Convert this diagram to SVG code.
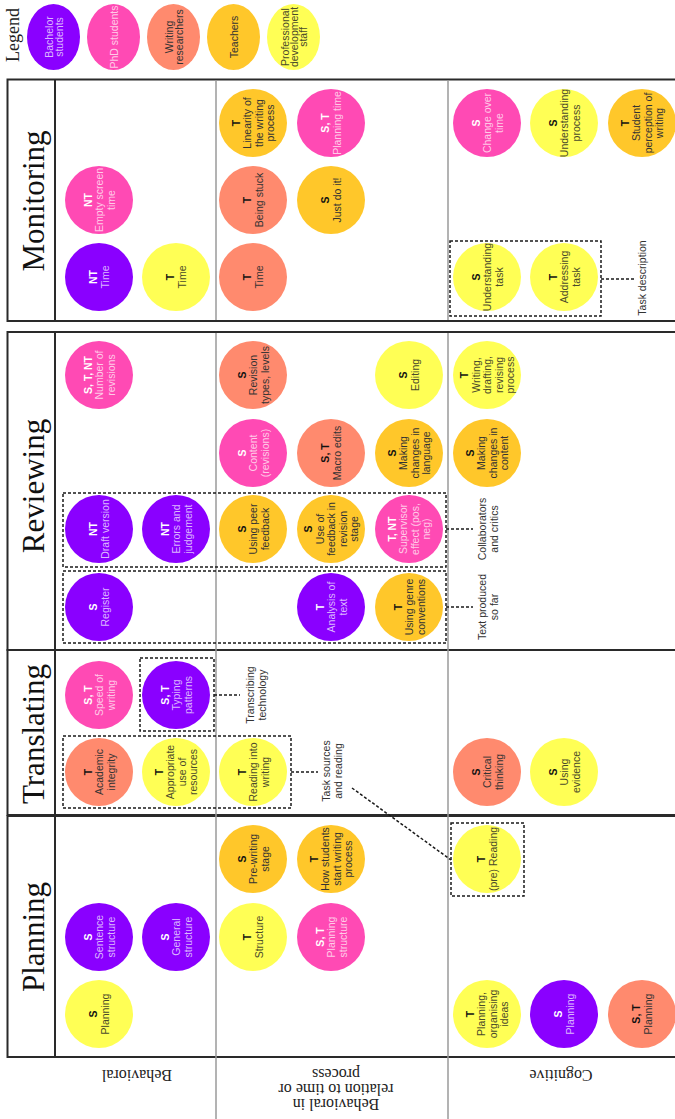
<svg xmlns="http://www.w3.org/2000/svg" width="675" height="1119" viewBox="0 0 675 1119">
  <style>
    text { font-family: "Liberation Sans", Arial, sans-serif; font-size: 10.5px; text-anchor: middle; dominant-baseline: central; }
    .code { font-weight: bold; }
    .serif { font-family: "Liberation Serif", "Times New Roman", serif; dominant-baseline: auto; }
    .head { font-size: 31px; fill: #111; }
    .legend-title { font-size: 18px; fill: #222; }
    .rowlab { font-size: 16px; fill: #222; dominant-baseline: central; }
    .ba circle, .ba ellipse { fill: #8a00ff; }
    .phd circle, .phd ellipse { fill: #ff4ab4; }
    .wr circle, .wr ellipse { fill: #ff8a6e; }
    .te circle, .te ellipse { fill: #ffc72a; }
    .pd circle, .pd ellipse { fill: #ffff55; }
    .ba .code, .phd .code { fill: #ffffff; }
    .ba .lbl { fill: #dcb6ff; }
    .phd .lbl { fill: #ffcbe8; }
    .wr .code, .te .code, .pd .code { fill: #111; }
    .wr .lbl, .te .lbl { fill: #333; }
    .pd .lbl { fill: #4a4a2a; }
    .box { fill: none; stroke: #2a2a2a; stroke-width: 2; }
    .hdiv { stroke: #2a2a2a; stroke-width: 2; }
    .rdiv { stroke: #9a9a9a; stroke-width: 1.5; }
    .dbox { fill: none; stroke: #1a1a1a; stroke-width: 1.5; stroke-dasharray: 3 2; }
    .lead { fill: none; stroke: #1a1a1a; stroke-width: 1.5; stroke-dasharray: 3 2; }
    .note { fill: #333; }
  </style>

  <rect width="675" height="1119" fill="#ffffff"/>

  <!-- Legend -->
  <g id="legend">
    <text class="serif legend-title" transform="translate(13,35) rotate(-90)" y="6">Legend</text>
    <g class="ba" transform="translate(53.5,37) rotate(-90)"><ellipse rx="33" ry="26.5"/><text class="lbl"><tspan x="0" y="-5">Bachelor</tspan><tspan x="0" y="5.5">students</tspan></text></g>
    <g class="phd" transform="translate(113.5,37) rotate(-90)"><ellipse rx="33" ry="26.5"/><text class="lbl"><tspan x="0" y="0">PhD students</tspan></text></g>
    <g class="wr" transform="translate(173.5,37) rotate(-90)"><ellipse rx="33" ry="26.5"/><text class="lbl"><tspan x="0" y="-5">Writing</tspan><tspan x="0" y="5.5">researchers</tspan></text></g>
    <g class="te" transform="translate(233.5,37) rotate(-90)"><ellipse rx="33" ry="26.5"/><text class="lbl"><tspan x="0" y="0">Teachers</tspan></text></g>
    <g class="pd" transform="translate(293.5,37) rotate(-90)"><ellipse rx="33" ry="26.5"/><text class="lbl"><tspan x="0" y="-9">Professional</tspan><tspan x="0" y="0">development</tspan><tspan x="0" y="9">staff</tspan></text></g>
  </g>

  <!-- Table frame -->
  <g id="frame">
    <rect class="box" x="7.5" y="79.5" width="680" height="241.5"/>
    <rect class="box" x="7.5" y="332" width="680" height="318"/>
    <rect class="box" x="7.5" y="650" width="680" height="165"/>
    <rect class="box" x="7.5" y="816" width="680" height="241"/>
    <line class="hdiv" x1="55" y1="79.5" x2="55" y2="321"/>
    <line class="hdiv" x1="55" y1="332" x2="55" y2="1057"/>
    <line class="rdiv" x1="216" y1="80.5" x2="216" y2="320"/>
    <line class="rdiv" x1="216" y1="333" x2="216" y2="1119"/>
    <line class="rdiv" x1="448" y1="80.5" x2="448" y2="320"/>
    <line class="rdiv" x1="448" y1="333" x2="448" y2="1119"/>
  </g>

  <!-- Phase headings -->
  <g id="headings">
    <text class="serif head" transform="translate(31,201) rotate(-90)" y="13">Monitoring</text>
    <text class="serif head" transform="translate(31,486) rotate(-90)" y="13">Reviewing</text>
    <text class="serif head" transform="translate(31,734) rotate(-90)" y="13">Translating</text>
    <text class="serif head" transform="translate(31,937) rotate(-90)" y="13">Planning</text>
  </g>

  <!-- Row labels -->
  <g id="row-labels">
    <text class="serif rowlab" transform="translate(137,1075) rotate(180)">Behavioral</text>
    <text class="serif rowlab" transform="translate(336,1090) rotate(180)"><tspan x="0" y="-15">Behavioral in</tspan><tspan x="0" y="0">relation to time or</tspan><tspan x="0" y="15">process</tspan></text>
    <text class="serif rowlab" transform="translate(561,1075) rotate(180)">Cognitive</text>
  </g>

  <!-- Grouping boxes -->
  <g id="groups">
    <rect class="dbox" x="450" y="241" width="151" height="75"/>
    <rect class="dbox" x="63" y="493" width="383" height="74"/>
    <rect class="dbox" x="63" y="571" width="383" height="72"/>
    <rect class="dbox" x="140" y="658" width="74" height="73"/>
    <rect class="dbox" x="63" y="736" width="228" height="72"/>
    <rect class="dbox" x="451" y="823" width="73" height="73"/>
  </g>

  <!-- Connectors -->
  <g id="connectors">
    <line class="lead" x1="601" y1="279" x2="634" y2="279"/>
    <line class="lead" x1="446" y1="529" x2="473" y2="529"/>
    <line class="lead" x1="446" y1="607" x2="473" y2="607"/>
    <line class="lead" x1="214" y1="695" x2="240" y2="695"/>
    <line class="lead" x1="291" y1="772" x2="318" y2="772"/>
    <line class="lead" x1="352" y1="788" x2="451" y2="860"/>
  </g>

  <!-- Connector labels -->
  <g id="group-labels">
    <text class="note" transform="translate(642,278) rotate(-90)">Task description</text>
    <text class="note" transform="translate(488,529) rotate(-90)"><tspan x="0" y="-6">Collaborators</tspan><tspan x="0" y="6">and critics</tspan></text>
    <text class="note" transform="translate(488,607) rotate(-90)"><tspan x="0" y="-6">Text produced</tspan><tspan x="0" y="6">so far</tspan></text>
    <text class="note" transform="translate(256,695) rotate(-90)"><tspan x="0" y="-6">Transcribing</tspan><tspan x="0" y="6">technology</tspan></text>
    <text class="note" transform="translate(332,771) rotate(-90)"><tspan x="0" y="-6">Task sources</tspan><tspan x="0" y="6">and reading</tspan></text>
  </g>

  <!-- Monitoring -->
  <g id="m1" class="ba" transform="translate(99,277) rotate(-90)"><circle r="34"/><text><tspan class="code" x="0" y="-5.75">NT</tspan><tspan class="lbl" x="0" y="5.75">Time</tspan></text></g>
  <g id="m2" class="phd" transform="translate(99,200) rotate(-90)"><circle r="34"/><text><tspan class="code" x="0" y="-11.5">NT</tspan><tspan class="lbl" x="0" y="0">Empty screen</tspan><tspan class="lbl" x="0" y="11.5">time</tspan></text></g>
  <g id="m3" class="pd" transform="translate(176,277) rotate(-90)"><circle r="34"/><text><tspan class="code" x="0" y="-5.75">T</tspan><tspan class="lbl" x="0" y="5.75">Time</tspan></text></g>
  <g id="m4" class="te" transform="translate(253,123) rotate(-90)"><circle r="34"/><text><tspan class="code" x="0" y="-17.25">T</tspan><tspan class="lbl" x="0" y="-5.75">Linearity of</tspan><tspan class="lbl" x="0" y="5.75">the writing</tspan><tspan class="lbl" x="0" y="17.25">process</tspan></text></g>
  <g id="m5" class="wr" transform="translate(253,200) rotate(-90)"><circle r="34"/><text><tspan class="code" x="0" y="-5.75">T</tspan><tspan class="lbl" x="0" y="5.75">Being stuck</tspan></text></g>
  <g id="m6" class="wr" transform="translate(253,277) rotate(-90)"><circle r="34"/><text><tspan class="code" x="0" y="-5.75">T</tspan><tspan class="lbl" x="0" y="5.75">Time</tspan></text></g>
  <g id="m7" class="phd" transform="translate(331,123) rotate(-90)"><circle r="34"/><text><tspan class="code" x="0" y="-5.75">S, T</tspan><tspan class="lbl" x="0" y="5.75">Planning time</tspan></text></g>
  <g id="m8" class="te" transform="translate(331,200) rotate(-90)"><circle r="34"/><text><tspan class="code" x="0" y="-5.75">S</tspan><tspan class="lbl" x="0" y="5.75">Just do it!</tspan></text></g>
  <g id="m9" class="phd" transform="translate(487,123) rotate(-90)"><circle r="34"/><text><tspan class="code" x="0" y="-11.5">S</tspan><tspan class="lbl" x="0" y="0">Change over</tspan><tspan class="lbl" x="0" y="11.5">time</tspan></text></g>
  <g id="m10" class="pd" transform="translate(564,123) rotate(-90)"><circle r="34"/><text><tspan class="code" x="0" y="-11.5">S</tspan><tspan class="lbl" x="0" y="0">Understanding</tspan><tspan class="lbl" x="0" y="11.5">process</tspan></text></g>
  <g id="m11" class="te" transform="translate(642,123) rotate(-90)"><circle r="34"/><text><tspan class="code" x="0" y="-17.25">T</tspan><tspan class="lbl" x="0" y="-5.75">Student</tspan><tspan class="lbl" x="0" y="5.75">perception of</tspan><tspan class="lbl" x="0" y="17.25">writing</tspan></text></g>
  <g id="m12" class="pd" transform="translate(487,277) rotate(-90)"><circle r="34"/><text><tspan class="code" x="0" y="-11.5">S</tspan><tspan class="lbl" x="0" y="0">Understanding</tspan><tspan class="lbl" x="0" y="11.5">task</tspan></text></g>
  <g id="m13" class="pd" transform="translate(564,277) rotate(-90)"><circle r="34"/><text><tspan class="code" x="0" y="-11.5">T</tspan><tspan class="lbl" x="0" y="0">Addressing</tspan><tspan class="lbl" x="0" y="11.5">task</tspan></text></g>

  <!-- Reviewing -->
  <g id="r1" class="phd" transform="translate(99,375) rotate(-90)"><circle r="34"/><text><tspan class="code" x="0" y="-11.5">S, T, NT</tspan><tspan class="lbl" x="0" y="0">Number of</tspan><tspan class="lbl" x="0" y="11.5">revisions</tspan></text></g>
  <g id="r2" class="ba" transform="translate(99,529) rotate(-90)"><circle r="34"/><text><tspan class="code" x="0" y="-5.75">NT</tspan><tspan class="lbl" x="0" y="5.75">Draft version</tspan></text></g>
  <g id="r3" class="ba" transform="translate(99,607) rotate(-90)"><circle r="34"/><text><tspan class="code" x="0" y="-5.75">S</tspan><tspan class="lbl" x="0" y="5.75">Register</tspan></text></g>
  <g id="r4" class="ba" transform="translate(176,529) rotate(-90)"><circle r="34"/><text><tspan class="code" x="0" y="-11.5">NT</tspan><tspan class="lbl" x="0" y="0">Errors and</tspan><tspan class="lbl" x="0" y="11.5">judgement</tspan></text></g>
  <g id="r5" class="wr" transform="translate(253,375) rotate(-90)"><circle r="34"/><text><tspan class="code" x="0" y="-11.5">S</tspan><tspan class="lbl" x="0" y="0">Revision</tspan><tspan class="lbl" x="0" y="11.5">types, levels</tspan></text></g>
  <g id="r6" class="phd" transform="translate(253,453) rotate(-90)"><circle r="34"/><text><tspan class="code" x="0" y="-11.5">S</tspan><tspan class="lbl" x="0" y="0">Content</tspan><tspan class="lbl" x="0" y="11.5">(revisions)</tspan></text></g>
  <g id="r7" class="te" transform="translate(253,529) rotate(-90)"><circle r="34"/><text><tspan class="code" x="0" y="-11.5">S</tspan><tspan class="lbl" x="0" y="0">Using peer</tspan><tspan class="lbl" x="0" y="11.5">feedback</tspan></text></g>
  <g id="r8" class="wr" transform="translate(331,453) rotate(-90)"><circle r="34"/><text><tspan class="code" x="0" y="-5.75">S, T</tspan><tspan class="lbl" x="0" y="5.75">Macro edits</tspan></text></g>
  <g id="r9" class="te" transform="translate(331,529) rotate(-90)"><circle r="34"/><text><tspan class="code" x="0" y="-23">S</tspan><tspan class="lbl" x="0" y="-11.5">Use of</tspan><tspan class="lbl" x="0" y="0">feedback in</tspan><tspan class="lbl" x="0" y="11.5">revision</tspan><tspan class="lbl" x="0" y="23">stage</tspan></text></g>
  <g id="r10" class="ba" transform="translate(331,607) rotate(-90)"><circle r="34"/><text><tspan class="code" x="0" y="-11.5">T</tspan><tspan class="lbl" x="0" y="0">Analysis of</tspan><tspan class="lbl" x="0" y="11.5">text</tspan></text></g>
  <g id="r11" class="pd" transform="translate(409,375) rotate(-90)"><circle r="34"/><text><tspan class="code" x="0" y="-5.75">S</tspan><tspan class="lbl" x="0" y="5.75">Editing</tspan></text></g>
  <g id="r12" class="te" transform="translate(409,453) rotate(-90)"><circle r="34"/><text><tspan class="code" x="0" y="-17.25">S</tspan><tspan class="lbl" x="0" y="-5.75">Making</tspan><tspan class="lbl" x="0" y="5.75">changes in</tspan><tspan class="lbl" x="0" y="17.25">language</tspan></text></g>
  <g id="r13" class="phd" transform="translate(409,529) rotate(-90)"><circle r="34"/><text><tspan class="code" x="0" y="-17.25">T, NT</tspan><tspan class="lbl" x="0" y="-5.75">Supervisor</tspan><tspan class="lbl" x="0" y="5.75">effect (pos,</tspan><tspan class="lbl" x="0" y="17.25">neg)</tspan></text></g>
  <g id="r14" class="te" transform="translate(409,607) rotate(-90)"><circle r="34"/><text><tspan class="code" x="0" y="-11.5">T</tspan><tspan class="lbl" x="0" y="0">Using genre</tspan><tspan class="lbl" x="0" y="11.5">conventions</tspan></text></g>
  <g id="r15" class="pd" transform="translate(487,375) rotate(-90)"><circle r="34"/><text><tspan class="code" x="0" y="-23">T</tspan><tspan class="lbl" x="0" y="-11.5">Writing,</tspan><tspan class="lbl" x="0" y="0">drafting,</tspan><tspan class="lbl" x="0" y="11.5">revising</tspan><tspan class="lbl" x="0" y="23">process</tspan></text></g>
  <g id="r16" class="te" transform="translate(487,453) rotate(-90)"><circle r="34"/><text><tspan class="code" x="0" y="-17.25">S</tspan><tspan class="lbl" x="0" y="-5.75">Making</tspan><tspan class="lbl" x="0" y="5.75">changes in</tspan><tspan class="lbl" x="0" y="17.25">content</tspan></text></g>

  <!-- Translating -->
  <g id="t1" class="phd" transform="translate(99,695) rotate(-90)"><circle r="34"/><text><tspan class="code" x="0" y="-11.5">S, T</tspan><tspan class="lbl" x="0" y="0">Speed of</tspan><tspan class="lbl" x="0" y="11.5">writing</tspan></text></g>
  <g id="t2" class="ba" transform="translate(176,695) rotate(-90)"><circle r="34"/><text><tspan class="code" x="0" y="-11.5">S, T</tspan><tspan class="lbl" x="0" y="0">Typing</tspan><tspan class="lbl" x="0" y="11.5">patterns</tspan></text></g>
  <g id="t3" class="wr" transform="translate(99,772) rotate(-90)"><circle r="34"/><text><tspan class="code" x="0" y="-11.5">T</tspan><tspan class="lbl" x="0" y="0">Academic</tspan><tspan class="lbl" x="0" y="11.5">integrity</tspan></text></g>
  <g id="t4" class="pd" transform="translate(176,772) rotate(-90)"><circle r="34"/><text><tspan class="code" x="0" y="-17.25">T</tspan><tspan class="lbl" x="0" y="-5.75">Appropriate</tspan><tspan class="lbl" x="0" y="5.75">use of</tspan><tspan class="lbl" x="0" y="17.25">resources</tspan></text></g>
  <g id="t5" class="pd" transform="translate(253,772) rotate(-90)"><circle r="34"/><text><tspan class="code" x="0" y="-11.5">T</tspan><tspan class="lbl" x="0" y="0">Reading into</tspan><tspan class="lbl" x="0" y="11.5">writing</tspan></text></g>
  <g id="t6" class="wr" transform="translate(487,772) rotate(-90)"><circle r="34"/><text><tspan class="code" x="0" y="-11.5">S</tspan><tspan class="lbl" x="0" y="0">Critical</tspan><tspan class="lbl" x="0" y="11.5">thinking</tspan></text></g>
  <g id="t7" class="pd" transform="translate(564,772) rotate(-90)"><circle r="34"/><text><tspan class="code" x="0" y="-11.5">S</tspan><tspan class="lbl" x="0" y="0">Using</tspan><tspan class="lbl" x="0" y="11.5">evidence</tspan></text></g>

  <!-- Planning -->
  <g id="p1" class="ba" transform="translate(99,937) rotate(-90)"><circle r="34"/><text><tspan class="code" x="0" y="-11.5">S</tspan><tspan class="lbl" x="0" y="0">Sentence</tspan><tspan class="lbl" x="0" y="11.5">structure</tspan></text></g>
  <g id="p2" class="pd" transform="translate(99,1014) rotate(-90)"><circle r="34"/><text><tspan class="code" x="0" y="-5.75">S</tspan><tspan class="lbl" x="0" y="5.75">Planning</tspan></text></g>
  <g id="p3" class="ba" transform="translate(176,937) rotate(-90)"><circle r="34"/><text><tspan class="code" x="0" y="-11.5">S</tspan><tspan class="lbl" x="0" y="0">General</tspan><tspan class="lbl" x="0" y="11.5">structure</tspan></text></g>
  <g id="p4" class="te" transform="translate(253,859) rotate(-90)"><circle r="34"/><text><tspan class="code" x="0" y="-11.5">S</tspan><tspan class="lbl" x="0" y="0">Pre-writing</tspan><tspan class="lbl" x="0" y="11.5">stage</tspan></text></g>
  <g id="p5" class="pd" transform="translate(253,937) rotate(-90)"><circle r="34"/><text><tspan class="code" x="0" y="-5.75">T</tspan><tspan class="lbl" x="0" y="5.75">Structure</tspan></text></g>
  <g id="p6" class="te" transform="translate(331,859) rotate(-90)"><circle r="34"/><text><tspan class="code" x="0" y="-17.25">T</tspan><tspan class="lbl" x="0" y="-5.75">How students</tspan><tspan class="lbl" x="0" y="5.75">start writing</tspan><tspan class="lbl" x="0" y="17.25">process</tspan></text></g>
  <g id="p7" class="phd" transform="translate(331,937) rotate(-90)"><circle r="34"/><text><tspan class="code" x="0" y="-11.5">S, T</tspan><tspan class="lbl" x="0" y="0">Planning</tspan><tspan class="lbl" x="0" y="11.5">structure</tspan></text></g>
  <g id="p8" class="pd" transform="translate(487,859) rotate(-90)"><circle r="34"/><text><tspan class="code" x="0" y="-5.75">T</tspan><tspan class="lbl" x="0" y="5.75">(pre) Reading</tspan></text></g>
  <g id="p9" class="pd" transform="translate(487,1014) rotate(-90)"><circle r="34"/><text><tspan class="code" x="0" y="-17.25">T</tspan><tspan class="lbl" x="0" y="-5.75">Planning,</tspan><tspan class="lbl" x="0" y="5.75">organising</tspan><tspan class="lbl" x="0" y="17.25">ideas</tspan></text></g>
  <g id="p10" class="ba" transform="translate(564,1014) rotate(-90)"><circle r="34"/><text><tspan class="code" x="0" y="-5.75">S</tspan><tspan class="lbl" x="0" y="5.75">Planning</tspan></text></g>
  <g id="p11" class="wr" transform="translate(642,1014) rotate(-90)"><circle r="34"/><text><tspan class="code" x="0" y="-5.75">S, T</tspan><tspan class="lbl" x="0" y="5.75">Planning</tspan></text></g>
</svg>
